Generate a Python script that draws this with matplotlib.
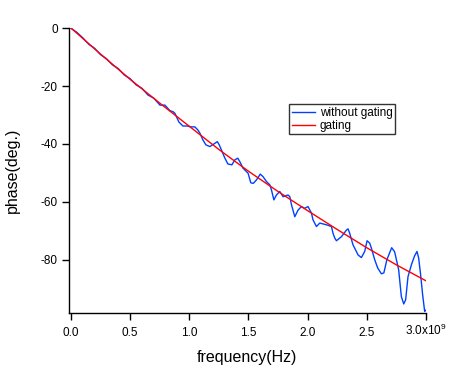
import numpy as np
import matplotlib.pyplot as plt
import matplotlib.transforms as mtransforms

plt.rcParams['font.family'] = ['Liberation Sans', 'DejaVu Sans']
plt.rcParams['axes.unicode_minus'] = False
plt.rcParams['mathtext.fontset'] = 'custom'
plt.rcParams['mathtext.rm'] = 'Liberation Sans'

# frequency in units of 1e9 Hz, phase in degrees
freq_raw = [0.000, 0.050, 0.100, 0.150, 0.200, 0.250, 0.300, 0.350, 0.400, 0.450,
            0.500, 0.550, 0.600, 0.650, 0.700, 0.752, 0.794, 0.836, 0.864, 0.878,
            0.912, 0.946, 0.980, 1.014, 1.047, 1.073, 1.090, 1.115, 1.140, 1.174,
            1.208, 1.237, 1.253, 1.272, 1.301, 1.326, 1.360, 1.385, 1.410, 1.427,
            1.455, 1.497, 1.520, 1.541, 1.568, 1.600, 1.624, 1.653, 1.681, 1.695,
            1.715, 1.737, 1.765, 1.793, 1.835, 1.850, 1.864, 1.892, 1.920, 1.948,
            1.976, 2.004, 2.033, 2.046, 2.075, 2.103, 2.160, 2.202, 2.215, 2.230,
            2.244, 2.286, 2.329, 2.342, 2.356, 2.384, 2.427, 2.455, 2.483, 2.503,
            2.525, 2.540, 2.568, 2.593, 2.624, 2.645, 2.670, 2.711, 2.736, 2.770,
            2.793, 2.813, 2.829, 2.849, 2.880, 2.905, 2.925, 2.939, 2.956, 2.973,
            2.990, 3.004]
phase_raw = [-0.1, -1.5, -3.4, -5.6, -7.0, -9.2, -10.6, -12.7, -14.0, -16.2,
             -17.5, -19.6, -20.8, -23.1, -24.2, -26.6, -26.6, -28.5, -28.9, -29.4,
             -32.4, -33.8, -33.8, -34.1, -34.1, -35.2, -36.3, -38.6, -40.3, -40.9,
             -40.0, -39.2, -40.3, -42.1, -44.9, -46.9, -47.2, -45.5, -44.9, -46.1,
             -48.4, -50.1, -53.4, -53.6, -52.4, -50.4, -51.3, -53.0, -54.1, -55.9,
             -59.3, -57.6, -56.4, -58.2, -57.6, -58.2, -61.0, -65.1, -62.8, -61.6,
             -62.2, -61.6, -63.9, -66.2, -68.5, -67.3, -67.9, -68.5, -70.8, -72.5,
             -73.4, -72.0, -69.7, -69.3, -70.8, -74.8, -78.3, -79.2, -77.1, -73.4,
             -74.2, -76.0, -80.0, -82.8, -84.8, -84.5, -80.0, -75.8, -77.2, -83.4,
             -92.7, -95.2, -93.8, -85.8, -81.4, -78.6, -77.1, -79.3, -85.2, -92.1,
             -97.8, -97.2]

freq_gate = [0.0, 0.25, 0.5, 0.75, 1.0, 1.25, 1.5, 1.75, 2.0, 2.25, 2.5, 2.75, 3.0]
phase_gate = [0.0, -9.0, -17.7, -25.9, -33.9, -41.9, -49.4, -56.4, -63.0, -69.5,
              -75.8, -81.7, -87.2]

xticks = [0.0, 0.5, 1.0, 1.5, 2.0, 2.5, 3.0]
xticklabels = ['0.0', '0.5', '1.0', '1.5', '2.0', '2.5', '3.0x10$^{9}$']
yticks = [0, -20, -40, -60, -80]

fig = plt.figure(figsize=(4.54, 3.69), dpi=100)
ax = fig.add_axes([0.152, 0.152, 0.786, 0.772])

ax.plot(freq_raw, phase_raw, color='#0040ff', lw=1.0, label='without gating')
ax.plot(freq_gate, phase_gate, color='#ff0000', lw=1.0, label='gating')

ax.set_xlim(-0.017, 3.0)
ax.set_ylim(-98.3, 0)
ax.set_xticks(xticks)
ax.set_xticklabels(xticklabels)
ax.set_yticks(yticks)
ax.tick_params(direction='out', length=5, width=1, labelsize=8.5, pad=3, colors='black')
ax.tick_params(axis='x', pad=5)
for s in ['top', 'right']:
    ax.spines[s].set_visible(False)
for s in ['left', 'bottom']:
    ax.spines[s].set_linewidth(1)

# the superscript pushes the last label down; lift it back to the others
lab = ax.get_xticklabels()[-1]
lab.set_transform(lab.get_transform() + mtransforms.ScaledTranslation(0, 3 / 72, fig.dpi_scale_trans))

ax.set_xlabel('frequency(Hz)', fontsize=11.5, labelpad=8)
ax.set_ylabel('phase(deg.)', fontsize=11.5, labelpad=15)

leg = ax.legend(loc='upper left', bbox_to_anchor=(0.637, 0.717), bbox_transform=fig.transFigure,
                fontsize=8.5, frameon=True, fancybox=False, borderpad=0.2,
                handlelength=2.0, handletextpad=0.4, labelspacing=0.1, borderaxespad=0)
leg.get_frame().set_edgecolor('black')
leg.get_frame().set_linewidth(1)

fig.savefig('out.png', dpi=100)
